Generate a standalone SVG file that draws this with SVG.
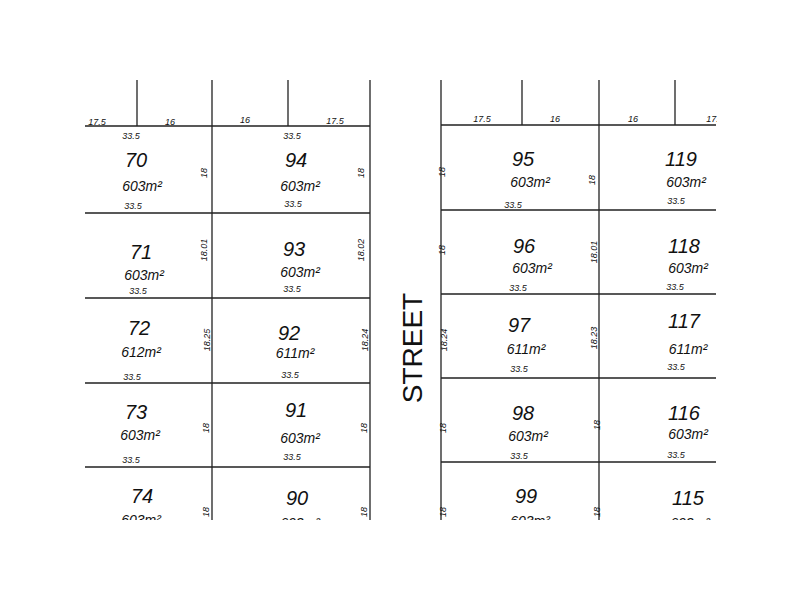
<svg xmlns="http://www.w3.org/2000/svg" width="800" height="600" viewBox="0 0 800 600">
<style>
.l{stroke:#222;stroke-width:1.3;fill:none}
text{font-family:"Liberation Sans",Arial,sans-serif;font-style:italic;fill:#111}
.n{font-size:20px;text-anchor:middle}
.a{font-size:14px;text-anchor:middle}
.d{font-size:9px;text-anchor:middle}
</style>
<defs><clipPath id="c"><rect x="84" y="80" width="633" height="440"/></clipPath></defs>
<rect width="800" height="600" fill="#fff"/>
<g clip-path="url(#c)">
<g id="lines">
<path class="l" d="M85 126H370M137 80V126M212 80V520M288 80V126M370 80V520M85 213H370M85 298H370M85 383H370M85 467H370"/>
<path class="l" d="M441 125H716M441 80V520M522 80V125M599 80V520M675 80V125M441 210H716M441 294H716M441 378H716M441 462H716"/>
</g>
<g id="topdims">
<text class="d" x="97" y="125">17.5</text><text class="d" x="170" y="125">16</text>
<text class="d" x="245" y="123">16</text><text class="d" x="335" y="124">17.5</text>
<text class="d" x="482" y="122">17.5</text><text class="d" x="555" y="122">16</text>
<text class="d" x="633" y="122">16</text><text class="d" x="715" y="122">17.5</text>
</g>
<g id="lot70"><text class="d" x="131" y="139">33.5</text><text class="n" x="136" y="167">70</text><text class="a" x="142" y="191">603m²</text><text class="d" x="133" y="209">33.5</text><text class="d" transform="translate(207,173) rotate(-90)">18</text></g>
<g id="lot94"><text class="d" x="292" y="139">33.5</text><text class="n" x="296" y="167">94</text><text class="a" x="300" y="191">603m²</text><text class="d" x="293" y="207">33.5</text><text class="d" transform="translate(364,173) rotate(-90)">18</text></g>
<g id="lot71"><text class="n" x="141" y="259">71</text><text class="a" x="144" y="280">603m²</text><text class="d" x="138" y="294">33.5</text><text class="d" transform="translate(207,250) rotate(-90)">18.01</text></g>
<g id="lot93"><text class="n" x="294" y="256">93</text><text class="a" x="300" y="277">603m²</text><text class="d" x="292" y="292">33.5</text><text class="d" transform="translate(364,250) rotate(-90)">18.02</text></g>
<g id="lot72"><text class="n" x="139" y="335">72</text><text class="a" x="141" y="357">612m²</text><text class="d" x="132" y="380">33.5</text><text class="d" transform="translate(210,340) rotate(-90)">18.25</text></g>
<g id="lot92"><text class="n" x="289" y="340">92</text><text class="a" x="295" y="358">611m²</text><text class="d" x="290" y="378">33.5</text><text class="d" transform="translate(368,340) rotate(-90)">18.24</text></g>
<g id="lot73"><text class="n" x="136" y="419">73</text><text class="a" x="140" y="440">603m²</text><text class="d" x="131" y="463">33.5</text><text class="d" transform="translate(209,428) rotate(-90)">18</text></g>
<g id="lot91"><text class="n" x="296" y="417">91</text><text class="a" x="300" y="443">603m²</text><text class="d" x="292" y="460">33.5</text><text class="d" transform="translate(367,428) rotate(-90)">18</text></g>
<g id="lot74"><text class="n" x="142" y="503">74</text><text class="a" x="141" y="525">603m²</text><text class="d" transform="translate(209,512) rotate(-90)">18</text></g>
<g id="lot90"><text class="n" x="297" y="505">90</text><text class="a" x="300" y="528">603m²</text><text class="d" transform="translate(367,512) rotate(-90)">18</text></g>
<g id="lot95"><text class="n" x="523" y="166">95</text><text class="a" x="530" y="187">603m²</text><text class="d" x="513" y="208">33.5</text><text class="d" transform="translate(445,172) rotate(-90)">18</text></g>
<g id="lot119"><text class="n" x="681" y="166">119</text><text class="a" x="686" y="187">603m²</text><text class="d" x="676" y="204">33.5</text><text class="d" transform="translate(595,180) rotate(-90)">18</text></g>
<g id="lot96"><text class="n" x="524" y="253">96</text><text class="a" x="532" y="273">603m²</text><text class="d" x="518" y="291">33.5</text><text class="d" transform="translate(445,250) rotate(-90)">18</text></g>
<g id="lot118"><text class="n" x="684" y="253">118</text><text class="a" x="688" y="273">603m²</text><text class="d" x="675" y="290">33.5</text><text class="d" transform="translate(597,252) rotate(-90)">18.01</text></g>
<g id="lot97"><text class="n" x="519" y="332">97</text><text class="a" x="526" y="354">611m²</text><text class="d" x="519" y="372">33.5</text><text class="d" transform="translate(447,340) rotate(-90)">18.24</text></g>
<g id="lot117"><text class="n" x="684" y="328">117</text><text class="a" x="688" y="354">611m²</text><text class="d" x="676" y="370">33.5</text><text class="d" transform="translate(597,338) rotate(-90)">18.23</text></g>
<g id="lot98"><text class="n" x="523" y="420">98</text><text class="a" x="528" y="441">603m²</text><text class="d" x="519" y="459">33.5</text><text class="d" transform="translate(446,428) rotate(-90)">18</text></g>
<g id="lot116"><text class="n" x="684" y="420">116</text><text class="a" x="688" y="439">603m²</text><text class="d" x="676" y="458">33.5</text><text class="d" transform="translate(600,425) rotate(-90)">18</text></g>
<g id="lot99"><text class="n" x="526" y="503">99</text><text class="a" x="530" y="526">603m²</text><text class="d" transform="translate(446,512) rotate(-90)">18</text></g>
<g id="lot115"><text class="n" x="688" y="505">115</text><text class="a" x="690" y="528">603m²</text><text class="d" transform="translate(600,512) rotate(-90)">18</text></g>
</g>
<text id="street" transform="translate(422,348) rotate(-90)" style="font-style:normal;font-size:28px;text-anchor:middle">STREET</text>
</svg>
